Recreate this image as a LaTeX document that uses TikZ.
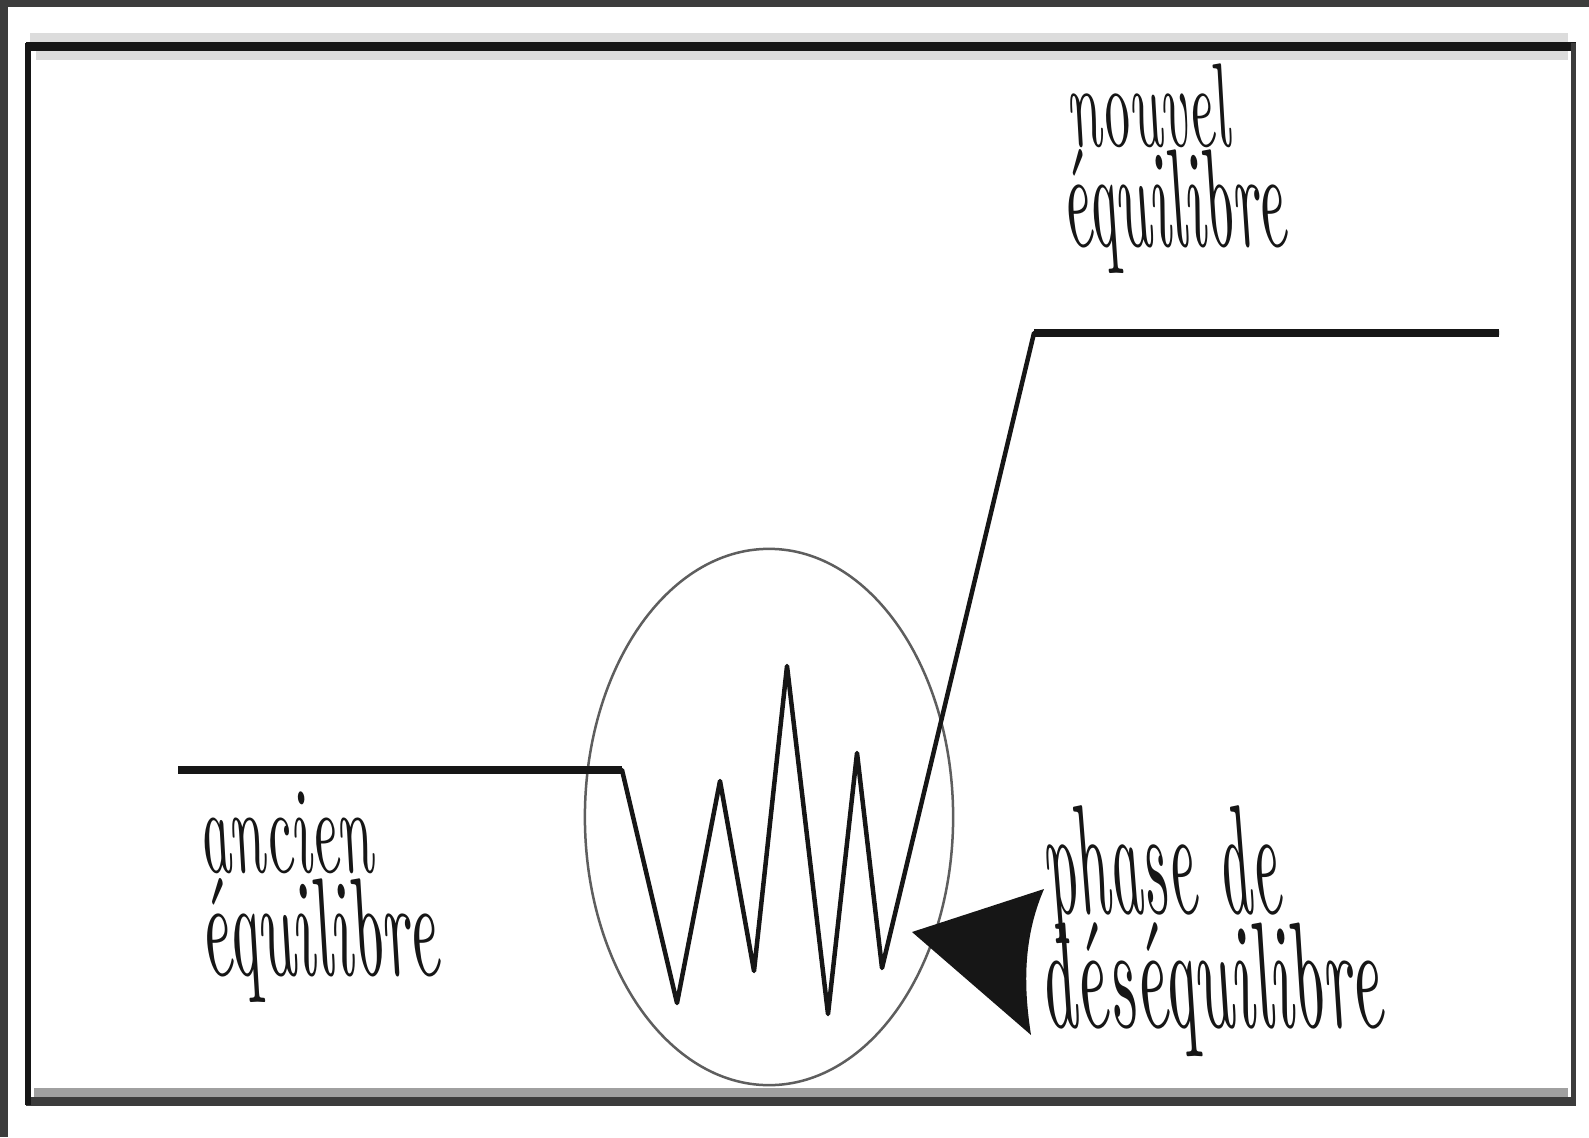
\documentclass[tikz,border=0pt]{standalone}
\usepackage{graphicx}
\definecolor{ink}{HTML}{161616}
\definecolor{rim}{HTML}{3C3C3C}
\definecolor{halo}{HTML}{DCDCDC}
\definecolor{band}{HTML}{A0A0A0}
\definecolor{ellgray}{HTML}{5E5E5E}
\begin{document}
\begin{tikzpicture}[x=0.01cm,y=-0.01cm,
  hw/.style={inner sep=0pt, outer sep=0pt, anchor=base west, text=ink, font=\itshape, xslant=-0.18, transform shape},
  curveline/.style={draw=ink, line width=0.045cm, line join=round},
  flatline/.style={draw=ink, line width=0.075cm}]
\useasboundingbox (0,0) rectangle (1589,1137);
\fill[white] (0,0) rectangle (1589,1137);
% outer dark rim (left and top)
\fill[rim] (0,0) rectangle (1589,7);
\fill[rim] (0,0) rectangle (8,1137);
% inner frame with its soft halos
\draw[halo, line width=0.09cm] (30,38) -- (1568,38);
\draw[halo, line width=0.09cm] (36,56) -- (1568,56);
\draw[band, line width=0.09cm] (34,1092) -- (1568,1092);
\draw[ink, line width=0.09cm] (26,47) -- (1576,47);
\draw[rim, line width=0.09cm] (26,1101) -- (1576,1101);
\draw[ink, line width=0.05cm] (28,43) -- (28,1105);
\draw[rim, line width=0.05cm] (1573,43) -- (1573,1105);
% ellipse around the disequilibrium phase
\coordinate (E) at (769,817);
\draw[ellgray, line width=0.025cm] (E) ellipse [x radius=1.84cm, y radius=2.68cm];
% the curve
\coordinate (L0) at (178,770);
\coordinate (L1) at (622,770);
\coordinate (V1) at (677,1003);
\coordinate (P2) at (720,781);
\coordinate (V2) at (754,971);
\coordinate (P3) at (787,666);
\coordinate (V3) at (828,1014);
\coordinate (P4) at (857,753);
\coordinate (V4) at (882,968);
\coordinate (R0) at (1034,333);
\coordinate (R1) at (1499,333);
\draw[curveline] (L0) -- (L1) -- (V1) -- (P2) -- (V2) -- (P3) -- (V3) -- (P4) -- (V4) -- (R0) -- (R1);
\draw[flatline] (L0) -- (L1);
\draw[flatline] (R0) -- (R1);
% pointer
\coordinate (T0) at (912,932);
\coordinate (T1) at (1044,889);
\coordinate (T2) at (1031,1035);
\fill[ink] (T0) -- (T1) .. controls (1022,940) and (1024,990) .. (T2) -- cycle;
% labels
\node[hw] (anc1) at (203,872) {\resizebox*{1.74cm}{0.82cm}{ancien}};
\node[hw] (anc2) at (205,975) {\resizebox*{2.38cm}{1.24cm}{équilibre}};
\node[hw] (nou1) at (1072,147) {\resizebox*{1.61cm}{0.84cm}{nouvel}};
\node[hw] (nou2) at (1067,247) {\resizebox*{2.23cm}{1.24cm}{équilibre}};
\node[hw] (pha1) at (1050,913) {\resizebox*{2.35cm}{1.38cm}{phase de}};
\node[hw] (pha2) at (1045,1027) {\resizebox*{3.42cm}{1.34cm}{déséquilibre}};
\end{tikzpicture}
\end{document}
